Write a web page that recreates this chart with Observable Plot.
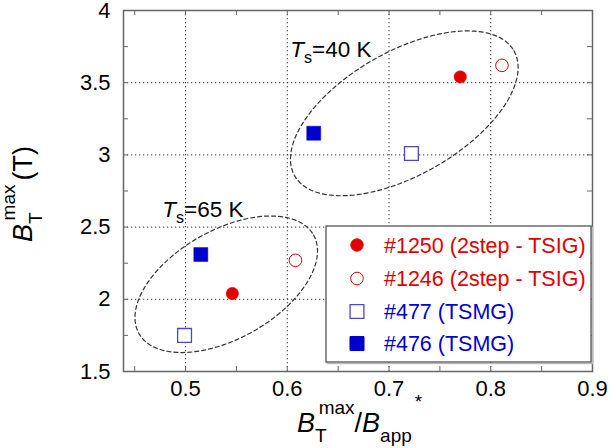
<!DOCTYPE html>
<html>
<head>
<meta charset="utf-8">
<script src="https://cdn.jsdelivr.net/npm/d3@7"></script>
<script src="https://cdn.jsdelivr.net/npm/@observablehq/plot@0.6"></script>
<style>
  html, body { margin: 0; padding: 0; background: #fff; }
  #chart { width: 609px; height: 448px; }
</style>
</head>
<body>
<div id="chart"></div>
<script>
// ---- data ----
const seriesNames = ["#1250 (2step - TSIG)", "#1246 (2step - TSIG)", "#477 (TSMG)", "#476 (TSMG)"];
const x1250 = [0.546, 0.770];
const y1250 = [2.04, 3.54];
const x1246 = [0.608, 0.811];
const y1246 = [2.27, 3.62];
const x477 = [0.499, 0.722];
const y477 = [1.75, 3.01];
const x476 = [0.515, 0.626];
const y476 = [2.31, 3.15];

const xTickLabels = [0.5, 0.6, 0.7, 0.8, 0.9];
const yTickLabels = [1.5, 2, 2.5, 3, 3.5, 4];
const xGrid = [0.5, 0.6, 0.7, 0.8];
const yGrid = [2, 2.5, 3, 3.5];
const xMinor = [0.45, 0.5, 0.55, 0.6, 0.65, 0.7, 0.75, 0.8, 0.85];
const yMinor = [1.75, 2, 2.25, 2.5, 2.75, 3, 3.25, 3.5, 3.75];

// annotation ellipses (centre + semi-axis vectors, data units)
const ellipseCx = [0.540, 0.715];
const ellipseCy = [2.104, 3.288];
const ellipseMajorDx = [0.0858, 0.1078];
const ellipseMajorDy = [0.3416, 0.433];
const ellipseMinorDx = [0.0263, 0.0301];
const ellipseMinorDy = [-0.327, -0.372];

const tsLabels = ["65 K", "40 K"];
const tsX = [0.4776, 0.6035];
const tsY = [2.569, 3.674];

// ---- styles ----
const RED = "#e00000";
const BLUE = "#0000cc";
const BLUE_OPEN = "#4a4ac4";
const FONT = 'Arial, "Liberation Sans", sans-serif';

const pts = (xs, ys) => xs.map((x, i) => ({x, y: ys[i]}));

const ellipsePts = [];
ellipseCx.forEach((cx, g) => {
  const n = 90;
  for (let i = 0; i < n; i++) {
    const t = (i / n) * 2 * Math.PI;
    ellipsePts.push({
      g,
      x: cx + ellipseMajorDx[g] * Math.cos(t) + ellipseMinorDx[g] * Math.sin(t),
      y: ellipseCy[g] + ellipseMajorDy[g] * Math.cos(t) + ellipseMinorDy[g] * Math.sin(t)
    });
  }
});

const W = 609, H = 448, ML = 123, MR = 17, MT = 10, MB = 77;
const innerW = W - ML - MR, innerH = H - MT - MB;
const TICK = 5;

const plot = Plot.plot({
  width: W, height: H,
  marginLeft: ML, marginRight: MR, marginTop: MT, marginBottom: MB,
  x: {domain: [0.439, 0.9]},
  y: {domain: [1.5, 4]},
  style: {fontFamily: FONT, fontSize: "22px", color: "#000", background: "#fff", overflow: "visible"},
  marks: [
    Plot.ruleX(xGrid, {stroke: "#333", strokeDasharray: "1.3,2.7", strokeWidth: 1}),
    Plot.ruleY(yGrid, {stroke: "#333", strokeDasharray: "1.3,2.7", strokeWidth: 1}),
    Plot.line(ellipsePts, {x: "x", y: "y", z: "g", curve: "linear-closed", stroke: "#333", strokeWidth: 1.2, strokeDasharray: "4,3"}),
    // ticks inward on four sides
    Plot.tickX(xMinor, {x: d => d, insetTop: innerH - TICK, stroke: "#666"}),
    Plot.tickX(xMinor, {x: d => d, insetBottom: innerH - TICK, stroke: "#666"}),
    Plot.tickY(yMinor, {y: d => d, insetRight: innerW - TICK, stroke: "#666"}),
    Plot.tickY(yMinor, {y: d => d, insetLeft: innerW - TICK, stroke: "#666"}),
    Plot.axisX(xTickLabels, {anchor: "bottom", tickSize: 0, tickPadding: 9, tickFormat: d => String(d), label: null, fontSize: 22}),
    Plot.axisY(yTickLabels, {anchor: "left", tickSize: 0, tickPadding: 13, tickFormat: d => String(d), label: null, fontSize: 22}),
    Plot.frame({stroke: "#666", strokeWidth: 1.5}),
    Plot.dot(pts(x1250, y1250), {x: "x", y: "y", r: 6.2, fill: RED, stroke: RED, strokeWidth: 0.5}),
    Plot.dot(pts(x1246, y1246), {x: "x", y: "y", r: 6.3, fill: "white", stroke: RED, strokeWidth: 1}),
    Plot.dot(pts(x477, y477), {x: "x", y: "y", symbol: "square", r: 7.8, fill: "white", stroke: BLUE_OPEN, strokeWidth: 1.3}),
    Plot.dot(pts(x476, y476), {x: "x", y: "y", symbol: "square", r: 7.9, fill: BLUE, stroke: BLUE, strokeWidth: 0.5})
  ]
});

document.getElementById("chart").appendChild(plot);

const sx = plot.scale("x"), sy = plot.scale("y");
const svg = d3.select(plot);

// T_s annotations
tsLabels.forEach((lab, i) => {
  const t = svg.append("text")
    .attr("x", sx.apply(tsX[i])).attr("y", sy.apply(tsY[i]))
    .attr("text-anchor", "start")
    .attr("font-family", FONT).attr("font-size", 22.5).attr("fill", "#000");
  t.append("tspan").attr("font-style", "italic").text("T");
  t.append("tspan").attr("font-size", 16).attr("dy", 6).text("s");
  t.append("tspan").attr("dy", -6).text("=" + lab);
});

// x axis label
{
  const t = svg.append("text").attr("x", 297).attr("y", 432)
    .attr("text-anchor", "start")
    .attr("font-family", FONT).attr("font-size", 27).attr("fill", "#000");
  t.append("tspan").attr("font-style", "italic").text("B");
  t.append("tspan").attr("font-size", 19).attr("dy", 10).text("T");
  t.append("tspan").attr("font-size", 19).attr("dx", -8).attr("dy", -28).text("max");
  t.append("tspan").attr("dy", 18).text("/");
  t.append("tspan").attr("font-style", "italic").text("B");
  t.append("tspan").attr("font-size", 19).attr("dy", 10).text("app");
  t.append("tspan").attr("font-size", 19).attr("dx", 3).attr("dy", -34).text("*");
}
// y axis label
{
  const t = svg.append("text").attr("transform", "translate(32,242) rotate(-90)")
    .attr("text-anchor", "start")
    .attr("font-family", FONT).attr("font-size", 27).attr("fill", "#000");
  t.append("tspan").attr("font-style", "italic").text("B");
  t.append("tspan").attr("font-size", 19).attr("dy", 10).text("T");
  t.append("tspan").attr("font-size", 19).attr("dx", -8).attr("dy", -27).text("max");
  t.append("tspan").attr("dx", 4).attr("dy", 17).text("(T)");
}

// legend
{
  const lx = 326, ly = 226, lw = 265, lh = 136;
  const g = svg.append("g");
  g.append("rect").attr("x", lx + 1.5).attr("y", ly + 1.5).attr("width", lw).attr("height", lh)
    .attr("fill", "none").attr("stroke", "#bbb").attr("stroke-width", 1.5);
  g.append("rect").attr("x", lx).attr("y", ly).attr("width", lw).attr("height", lh)
    .attr("fill", "white").attr("stroke", "#555").attr("stroke-width", 1.3);
  const rowY = [245, 278.5, 311.5, 343.5];
  const colors = [RED, RED, BLUE, BLUE];
  const markers = [
    {type: d3.symbolCircle, r: 6.2, fill: RED, stroke: RED},
    {type: d3.symbolCircle, r: 6.3, fill: "white", stroke: RED},
    {type: d3.symbolSquare, r: 7.8, fill: "white", stroke: BLUE_OPEN},
    {type: d3.symbolSquare, r: 7.9, fill: BLUE, stroke: BLUE}
  ];
  seriesNames.forEach((name, i) => {
    const m = markers[i];
    g.append("path")
      .attr("d", d3.symbol(m.type, Math.PI * m.r * m.r)())
      .attr("transform", `translate(357,${rowY[i]})`)
      .attr("fill", m.fill).attr("stroke", m.stroke).attr("stroke-width", i === 2 ? 1.3 : 1);
    g.append("text").attr("x", 384).attr("y", rowY[i]).attr("dy", "0.36em")
      .attr("text-anchor", "start")
      .attr("font-family", FONT).attr("font-size", 21.5).attr("fill", colors[i]).text(name);
  });
}
</script>
</body>
</html>
